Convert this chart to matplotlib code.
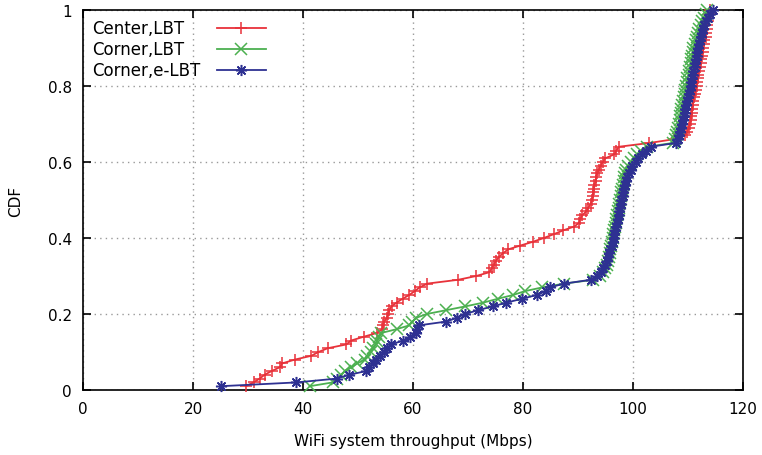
import matplotlib
matplotlib.use('Agg')
import matplotlib.pyplot as plt
import numpy as np

# throughput samples (Mbps), one per CDF step
center_lbt = [
    29.6, 31.0, 32.1, 33.0, 34.3, 35.8, 36.2, 38.5, 41.5, 42.8,
    44.5, 47.9, 48.7, 51.0, 53.4, 54.4, 54.5, 54.8, 55.2, 55.5,
    55.7, 56.1, 57.0, 58.1, 59.3, 60.3, 61.2, 62.6, 68.2, 71.5,
    73.9, 74.3, 74.7, 75.1, 75.6, 76.4, 77.3, 79.5, 81.8, 83.8,
    85.6, 87.3, 89.3, 90.2, 90.4, 90.8, 91.5, 91.9, 92.3, 92.5,
    92.7, 92.8, 92.9, 93.0, 93.2, 93.3, 93.5, 93.8, 94.1, 94.5,
    95.0, 96.6, 97.0, 97.4, 103.0, 107.5, 109.5, 109.9, 110.1, 110.3,
    110.5, 110.6, 110.7, 110.8, 110.9, 111.0, 111.1, 111.3, 111.4, 111.6,
    111.7, 111.8, 111.9, 112.0, 112.2, 112.3, 112.4, 112.5, 112.7, 112.8,
    112.9, 113.0, 113.2, 113.3, 113.4, 113.5, 113.6, 113.7, 113.8, 114.0,
]
corner_lbt = [
    41.2, 45.4, 46.1, 46.9, 47.6, 48.8, 49.9, 51.2, 51.7, 52.3,
    52.8, 53.2, 53.5, 53.8, 54.2, 57.0, 59.3, 59.9, 60.6, 62.5,
    66.0, 69.5, 72.8, 75.4, 78.2, 80.3, 83.5, 87.5, 92.8, 94.0,
    94.6, 94.9, 95.2, 95.4, 95.6, 95.8, 95.9, 96.0, 96.2, 96.3,
    96.4, 96.6, 96.7, 96.9, 97.0, 97.1, 97.3, 97.4, 97.5, 97.7,
    97.8, 97.9, 98.0, 98.2, 98.3, 98.4, 98.6, 98.8, 99.1, 99.6,
    100.2, 100.8, 101.5, 102.6, 107.2, 107.6, 107.8, 108.0, 108.2, 108.4,
    108.5, 108.6, 108.7, 108.8, 109.0, 109.1, 109.2, 109.4, 109.5, 109.7,
    109.8, 109.9, 110.1, 110.2, 110.4, 110.5, 110.6, 110.8, 110.9, 111.0,
    111.2, 111.4, 111.6, 111.8, 112.0, 112.3, 112.6, 112.9, 113.2, 113.5,
]
corner_elbt = [
    25.0, 38.8, 46.1, 48.4, 51.5, 52.0, 52.7, 53.3, 54.0, 54.7,
    55.3, 56.0, 58.2, 59.5, 60.5, 60.7, 61.0, 66.0, 68.0, 69.5,
    71.8, 74.5, 77.0, 79.8, 82.5, 84.2, 84.9, 87.5, 92.3, 93.4,
    94.2, 94.6, 94.9, 95.2, 95.5, 95.7, 95.9, 96.1, 96.3, 96.5,
    96.6, 96.8, 96.9, 97.1, 97.2, 97.4, 97.5, 97.6, 97.8, 97.9,
    98.1, 98.2, 98.4, 98.6, 98.8, 99.0, 99.3, 99.6, 99.9, 100.5,
    101.0, 101.6, 102.3, 103.2, 107.8, 108.1, 108.4, 108.6, 108.8, 109.0,
    109.1, 109.3, 109.4, 109.5, 109.7, 109.8, 110.0, 110.1, 110.3, 110.5,
    110.6, 110.8, 110.9, 111.0, 111.2, 111.3, 111.4, 111.6, 111.7, 111.8,
    112.0, 112.1, 112.3, 112.5, 112.7, 113.0, 113.3, 113.6, 114.0, 114.5,
]

labels = ['Center,LBT', 'Corner,LBT', 'Corner,e-LBT']
colors = ['#e8323a', '#4cb050', '#2e3192']
markers = ['+', 'x', (8, 2, 0)]

plt.rcParams['font.family'] = 'DejaVu Sans'
plt.rcParams['font.size'] = 11

fig = plt.figure(figsize=(7.62, 4.56), dpi=100)
ax = fig.add_axes([0.109, 0.1425, 0.866, 0.8335])

legend_y = [0.953, 0.897, 0.842]
for i, data in enumerate([center_lbt, corner_lbt, corner_elbt]):
    x = np.sort(np.array(data))
    y = np.arange(1, len(x) + 1) / len(x)  # empirical CDF
    ax.plot(x, y, color=colors[i], lw=1.3, marker=markers[i],
            ms=8, mew=1.1, clip_on=False, zorder=3 + i)
    # gnuplot style key: text left, sample right
    ax.text(0.0136, legend_y[i], labels[i], transform=ax.transAxes,
            fontsize=12, va='center', ha='left')
    ax.plot([0.203, 0.277], [legend_y[i], legend_y[i]], color=colors[i],
            lw=1.3, transform=ax.transAxes, clip_on=False)
    ax.plot([0.24], [legend_y[i]], color=colors[i], marker=markers[i],
            ms=8, mew=1.1, transform=ax.transAxes, clip_on=False)

ax.set_xlim(0, 120)
ax.set_ylim(0, 1)
ax.set_xticks(np.arange(0, 121, 20))
ax.set_yticks([0, 0.2, 0.4, 0.6, 0.8, 1])
ax.set_yticklabels(['0', '0.2', '0.4', '0.6', '0.8', '1'])
ax.tick_params(direction='in', length=6, width=1.2, top=True, right=True,
               pad=8, labelsize=11)
ax.grid(True, color='#999999', linestyle=(0, (1, 3)), lw=1)
for s in ax.spines.values():
    s.set_linewidth(1.2)
ax.set_xlabel('WiFi system throughput (Mbps)', fontsize=11, labelpad=12)
ax.set_ylabel('CDF', fontsize=11, labelpad=18)

fig.savefig('out.png', dpi=100)
